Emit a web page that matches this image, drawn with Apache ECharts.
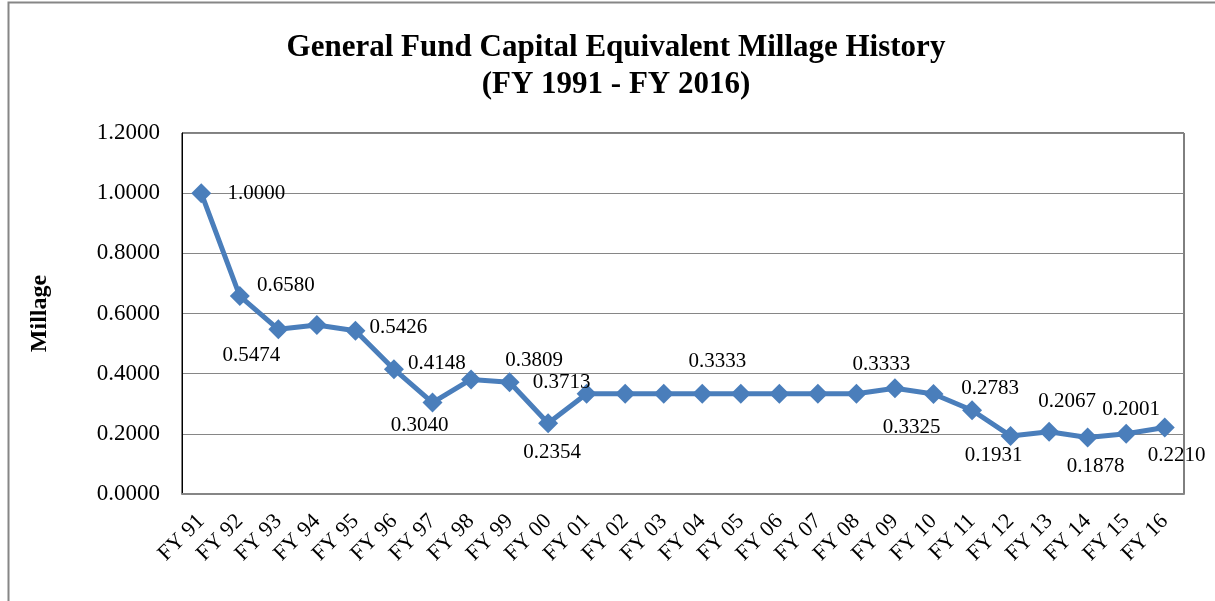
<!DOCTYPE html>
<html>
<head>
<meta charset="utf-8">
<script src="https://cdn.jsdelivr.net/npm/echarts@6/dist/echarts.min.js"></script>
<style>
  html, body { margin: 0; padding: 0; background: #fff; }
  #chart { width: 1215px; height: 601px; }
</style>
</head>
<body>
<div id="chart"></div>
<script>
const years = ['FY 91', 'FY 92', 'FY 93', 'FY 94', 'FY 95', 'FY 96', 'FY 97', 'FY 98', 'FY 99', 'FY 00',
  'FY 01', 'FY 02', 'FY 03', 'FY 04', 'FY 05', 'FY 06', 'FY 07', 'FY 08', 'FY 09', 'FY 10',
  'FY 11', 'FY 12', 'FY 13', 'FY 14', 'FY 15', 'FY 16'];
const millage = [1.0000, 0.6580, 0.5474, 0.5619, 0.5426, 0.4148, 0.3040, 0.3809, 0.3713, 0.2354,
  0.3333, 0.3333, 0.3333, 0.3333, 0.3333, 0.3333, 0.3333, 0.3333, 0.3513, 0.3325,
  0.2783, 0.1931, 0.2067, 0.1878, 0.2001, 0.2210];
const yTicks = [0, 0.2, 0.4, 0.6, 0.8, 1.0, 1.2];

// where each shown value label sits, relative to its point
const labelOffsets = {
  0: [55, 0], 1: [46, -11], 2: [-27, 26], 4: [43, -3], 5: [43, -6], 6: [-13, 23],
  7: [63, -19], 8: [52, 0], 9: [4, 29], 13: [15, -32], 17: [25, -29], 19: [-22, 34],
  20: [18, -22], 21: [-17, 20], 22: [18, -30], 23: [8, 29], 24: [5, -24], 25: [12, 28]
};

const serif = '"Liberation Serif", "Times New Roman", serif';
const chart = echarts.init(document.getElementById('chart'));

const points = millage.map((v, i) => {
  const off = labelOffsets[i];
  return {
    value: v,
    label: off ? { show: true, position: 'inside', offset: off } : { show: false }
  };
});

chart.setOption({
  animation: false,
  graphic: [{
    type: 'rect', left: 6, top: 0,
    shape: { width: 1300, height: 700 },
    style: { fill: 'none', stroke: '#868686', lineWidth: 2 }
  }],
  title: {
    text: 'General Fund Capital Equivalent Millage History\n(FY 1991 - FY 2016)',
    left: 611, top: 24, textAlign: 'center',
    textStyle: { fontFamily: serif, fontSize: 31, fontWeight: 'bold', color: '#000', lineHeight: 37 }
  },
  grid: { left: 182, right: 31, top: 133, bottom: 107, show: true, borderColor: '#000', borderWidth: 1 },
  xAxis: {
    type: 'category',
    data: years,
    axisLine: { lineStyle: { color: '#868686', width: 2 } },
    axisTick: { alignWithLabel: true, length: 5, lineStyle: { color: '#868686' } },
    axisLabel: { rotate: 45, margin: 24, interval: 0, fontFamily: serif, fontSize: 22, color: '#000' }
  },
  yAxis: {
    type: 'value',
    min: 0, max: yTicks[yTicks.length - 1], interval: 0.2,
    name: 'Millage', nameLocation: 'middle', nameGap: 130, nameRotate: 90,
    nameTextStyle: { fontFamily: serif, fontSize: 24, fontWeight: 'bold', color: '#000' },
    axisLine: { show: true, lineStyle: { color: '#000', width: 1 } },
    axisTick: { show: false },
    axisLabel: { margin: 22, fontFamily: serif, fontSize: 23, color: '#000', formatter: v => v.toFixed(4) },
    splitLine: { lineStyle: { color: '#868686', width: 1 } }
  },
  series: [{
    type: 'line',
    data: points,
    symbol: 'diamond',
    symbolSize: 20,
    lineStyle: { color: '#4A7EBB', width: 5 },
    itemStyle: { color: '#4A7EBB' },
    label: {
      fontFamily: serif, fontSize: 21, color: '#000',
      formatter: p => p.value.toFixed(4)
    }
  }]
});
</script>
</body>
</html>
